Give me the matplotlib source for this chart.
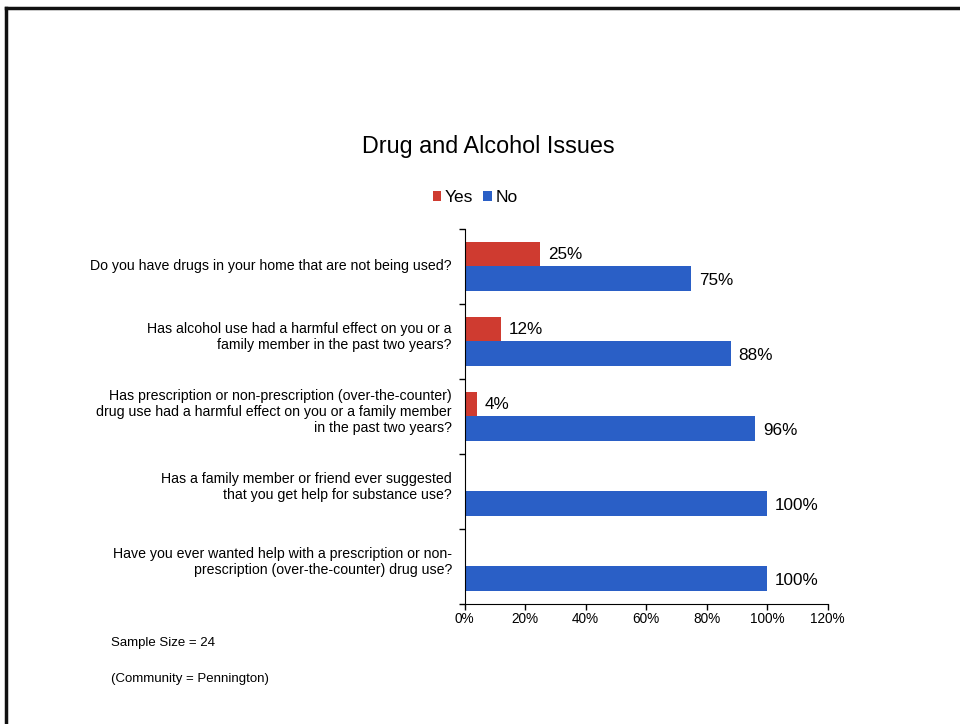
import matplotlib.pyplot as plt
import numpy as np

# --- DATA ---
QUESTIONS = [
    'Do you have drugs in your home that are not being used?',
    'Has alcohol use had a harmful effect on you or a\nfamily member in the past two years?',
    'Has prescription or non-prescription (over-the-counter)\ndrug use had a harmful effect on you or a family member\nin the past two years?',
    'Has a family member or friend ever suggested\nthat you get help for substance use?',
    'Have you ever wanted help with a prescription or non-\nprescription (over-the-counter) drug use?',
]
YES = [25, 12, 4, 0, 0]
NO = [75, 88, 96, 100, 100]
XTICKS = [0, 20, 40, 60, 80, 100, 120]

RED = '#cf3b30'
BLUE = '#2a5fc6'

plt.rcParams['font.family'] = ['Liberation Sans', 'DejaVu Sans']

fig = plt.figure(figsize=(9.6, 7.24), dpi=100)
ax = fig.add_axes([0.484, 0.166, 0.378, 0.518])

y = np.arange(len(QUESTIONS))
h = 0.325
ax.barh(y - h / 2, YES, height=h, color=RED, label='Yes')
ax.barh(y + h / 2, NO, height=h, color=BLUE, label='No')

# value labels (no label on zero Yes bars)
for i, (a, b) in enumerate(zip(YES, NO)):
    if a > 0:
        ax.text(a + 2.6, i - h / 2, f'{a}%', va='center', ha='left', fontsize=12.3)
    ax.text(b + 2.6, i + h / 2 + 0.03, f'{b}%', va='center', ha='left', fontsize=12.3)

ax.set_xlim(0, 120)
ax.set_ylim(len(QUESTIONS) - 0.5, -0.5)
ax.set_xticks(XTICKS)
ax.set_xticklabels([f'{t}%' for t in XTICKS], fontsize=9.8)
ax.set_yticks(np.arange(len(QUESTIONS) + 1) - 0.5)
ax.set_yticklabels([])
ax.tick_params(axis='both', length=4, width=1, direction='out')
ax.tick_params(axis='x', pad=2)
for s in ['top', 'right']:
    ax.spines[s].set_visible(False)

# question labels sit a little above the bar pair centre, as in the source
for i, q in enumerate(QUESTIONS):
    off = 0.0 if i == 0 else 0.06
    ax.text(-0.035, i - off, q, transform=ax.get_yaxis_transform(), ha='right', va='center',
            fontsize=10.2, linespacing=1.2)

fig.text(0.509, 0.797, 'Drug and Alcohol Issues', ha='center', va='center', fontsize=16.8)
fig.legend(loc='center', bbox_to_anchor=(0.495, 0.727), ncol=2, frameon=False,
           fontsize=12.5, handlelength=0.5, handleheight=0.5, handletextpad=0.2,
           columnspacing=0.6)

fig.text(0.116, 0.112, 'Sample Size = 24', fontsize=9.5, ha='left', va='center')
fig.text(0.116, 0.062, '(Community = Pennington)', fontsize=9.5, ha='left', va='center')

# page frame from the scan
fig.add_artist(plt.Line2D([0.006, 1.0], [0.989, 0.989], color='#111111', lw=2.5))
fig.add_artist(plt.Line2D([0.006, 0.006], [0.0, 0.989], color='#111111', lw=2.5))

fig.savefig('out.png', dpi=100)
